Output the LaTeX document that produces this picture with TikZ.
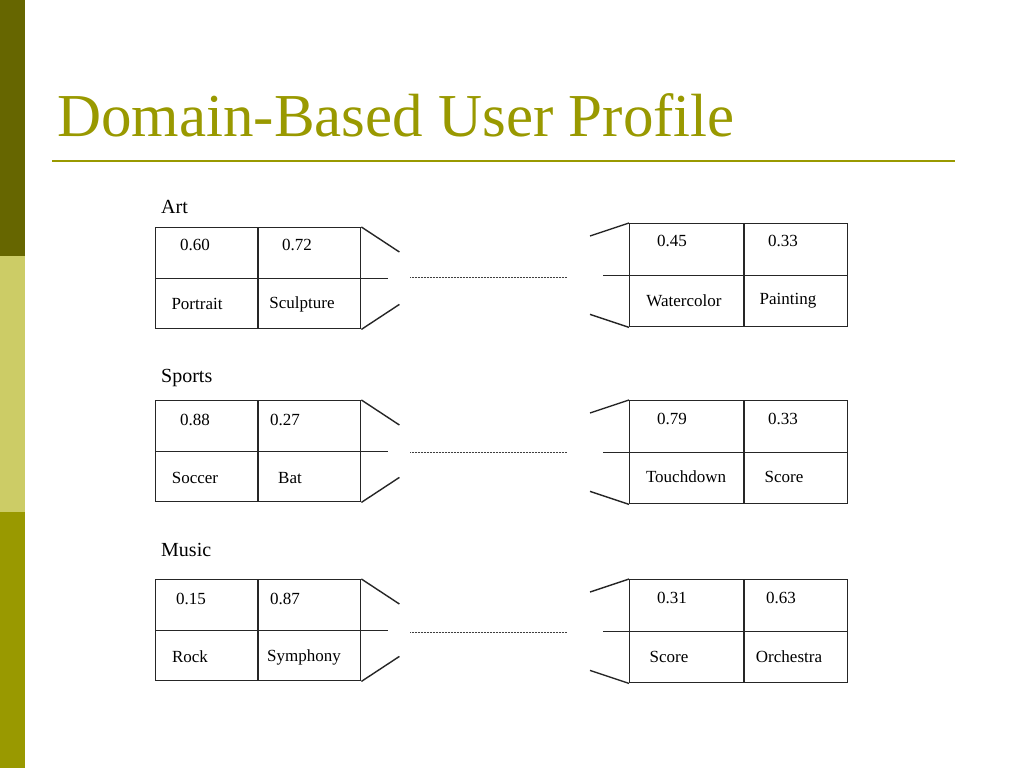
\documentclass[tikz,border=0pt]{standalone}
\usepackage{fontspec}
\setmainfont{Liberation Serif}
\definecolor{olivedark}{HTML}{666600}
\definecolor{olivelight}{HTML}{CCCC66}
\definecolor{olivemid}{HTML}{999900}
\definecolor{titlecol}{HTML}{999900}
\begin{document}
\begin{tikzpicture}[x=1pt,y=-1pt,
  tbl/.style={draw=black!85,line width=1.4pt,minimum width=205pt,minimum height=101pt,inner sep=0pt,anchor=north west},
  tblr/.style={draw=black!85,line width=1.4pt,minimum width=218pt,minimum height=103pt,inner sep=0pt,anchor=north west},
  edge/.style={draw=black!85,line width=1.4pt},
  dots/.style={draw=black!75,line width=1pt,dash pattern=on 0.8pt off 0.7pt},
  cell/.style={font=\fontsize{17}{20}\selectfont,inner sep=0pt,anchor=center},
  dom/.style={font=\fontsize{20}{24}\selectfont,inner sep=0pt,anchor=west}]
\useasboundingbox (0,0) rectangle (1024,768);
\fill[white] (0,0) rectangle (1024,768);
% sidebar
\fill[olivedark] (0,0) rectangle (25,256);
\fill[olivelight] (0,256) rectangle (25,512);
\fill[olivemid] (0,512) rectangle (25,768);
% title
\node[anchor=base west,inner sep=0pt,text=titlecol,font=\fontsize{61}{70}\selectfont] (title) at (57,136) {Domain-Based User Profile};
\coordinate (ruleL) at (52,161);
\coordinate (ruleR) at (955,161);
\draw[titlecol,line width=2pt] (ruleL) -- (ruleR);

% ---------- generic group macro ----------
\newcommand{\profgroup}[6]{%
% #1 name, #2 label, #3 label y, #4 left top y, #5 right top y, #6 dots y
\node[dom] (#1lab) at (161,#3) {#2};
\node[tbl] (#1L) at (155,#4) {};
\node[tblr] (#1R) at (629,#5) {};
\draw[edge] (#1L.north west) ++(103,0) -- ++(0,101);
\draw[edge] (#1R.north west) ++(115,0) -- ++(0,103);
\draw[edge] (#1L.west) -- ([xshift=27pt]#1L.east);
\draw[edge] ([xshift=-26pt]#1R.west) -- (#1R.east);
\draw[edge] (#1L.north east) -- ++(38,25);
\draw[edge] (#1L.south east) -- ++(38,-25);
\draw[edge] (#1R.north west) -- ++(-39,13);
\draw[edge] (#1R.south west) -- ++(-39,-13);
\coordinate (#1dA) at (410,#6);
\coordinate (#1dB) at (567,#6);
\draw[dots] (#1dA) -- (#1dB);
}

\profgroup{art}{Art}{207}{227}{223}{277}
\node[cell] (a1) at (195,245) {0.60};
\node[cell] (a2) at (297,245) {0.72};
\node[cell] (a3) at (197,304) {Portrait};
\node[cell] (a4) at (302,304) {Sculpture};
\node[cell] (a5) at (672,241) {0.45};
\node[cell] (a6) at (783,241) {0.33};
\node[cell] (a7) at (684,301) {Watercolor};
\node[cell] (a8) at (788,301) {Painting};

\profgroup{sp}{Sports}{378}{400}{400}{452}
\node[cell] (s1) at (195,420) {0.88};
\node[cell] (s2) at (285,420) {0.27};
\node[cell] (s3) at (195,478) {Soccer};
\node[cell] (s4) at (290,478) {Bat};
\node[cell] (s5) at (672,419) {0.79};
\node[cell] (s6) at (783,419) {0.33};
\node[cell] (s7) at (686,477) {Touchdown};
\node[cell] (s8) at (784,477) {Score};

\profgroup{mu}{Music}{550}{579}{579}{632}
\node[cell] (m1) at (191,599) {0.15};
\node[cell] (m2) at (285,599) {0.87};
\node[cell] (m3) at (190,657) {Rock};
\node[cell] (m4) at (304,657) {Symphony};
\node[cell] (m5) at (672,598) {0.31};
\node[cell] (m6) at (781,598) {0.63};
\node[cell] (m7) at (669,657) {Score};
\node[cell] (m8) at (789,657) {Orchestra};
\end{tikzpicture}
\end{document}
